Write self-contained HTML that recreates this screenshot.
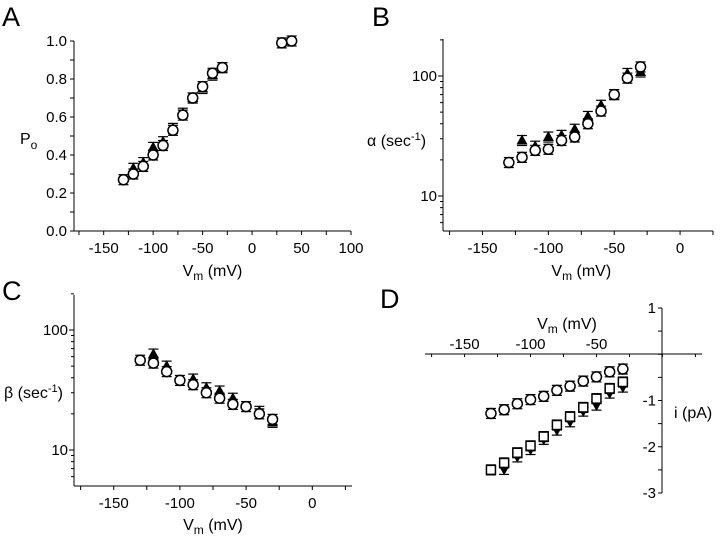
<!DOCTYPE html>
<html><head><meta charset="utf-8"><style>
html,body{margin:0;padding:0;background:#fff;}
svg{display:block;font-family:"Liberation Sans",sans-serif;}
</style></head><body>
<svg id="fig" width="720" height="536" viewBox="0 0 720 536"></svg>
<script>
// Panel A data (Po)
const voltsA_circ = [-130,-120,-110,-100,-90,-80,-70,-60,-50,-40,-30,30,40];
const poCirc = [0.27,0.30,0.34,0.40,0.45,0.53,0.61,0.70,0.76,0.83,0.86,0.99,1.0];
const voltsA_tri = [-120,-110,-100,-90,-80,-70,-60,-50,-40,-30];
const poTri = [0.33,0.36,0.44,0.47,0.54,0.62,0.70,0.75,0.82,0.86];
// Panel B data (alpha)
const voltsB_circ = [-130,-120,-110,-100,-90,-80,-70,-60,-50,-40,-30];
const alphaCirc = [19,21,24,24.5,29,31,40,51,70,96,119];
const voltsB_tri = [-120,-110,-100,-90,-80,-70,-60,-50,-40,-30];
const alphaTri = [29,26,31,32,36,46,57,70,105,108];
// Panel C data (beta)
const voltsC_circ = [-130,-120,-110,-100,-90,-80,-70,-60,-50,-40,-30];
const betaCirc = [56,53,45,38,35,30,27,24,23,20,18];
const voltsC_tri = [-120,-110,-90,-80,-70,-60,-40,-30];
const betaTri = [63,50,39,33,31,27,21,17];
// Panel D data (i)
const voltsD = [-130,-120,-110,-100,-90,-80,-70,-60,-50,-40,-30];
const iCirc = [-1.28,-1.2,-1.07,-0.98,-0.91,-0.78,-0.69,-0.58,-0.49,-0.38,-0.32];
const iSq = [-2.5,-2.35,-2.13,-1.98,-1.78,-1.53,-1.35,-1.15,-0.96,-0.74,-0.6];
const voltsD_tri = [-120,-110,-100,-90,-80,-70,-60,-50,-40,-30];
const iTri = [-2.49,-2.22,-2.06,-1.84,-1.64,-1.46,-1.23,-1.1,-0.84,-0.71];
// tick labels
const ticksA_x = [-150,-100,-50,0,50,100];
const ticksA_y = [0,0.2,0.4,0.6,0.8,1.0];
const ticksBC_x = [-150,-100,-50,0];
const ticksLog = [10,100];
const ticksD_x = [-150,-100,-50];
const ticksD_y = [1,-1,-2,-3];

const NS="http://www.w3.org/2000/svg";
const svg=document.getElementById('fig');
const TF=15;
function el(tag,attrs,parent,text){const e=document.createElementNS(NS,tag);for(const k in attrs)e.setAttribute(k,attrs[k]);if(text!==undefined)e.textContent=text;(parent||svg).appendChild(e);return e;}
function lin(d0,d1,r0,r1){return v=>r0+(v-d0)*(r1-r0)/(d1-d0);}
function logS(d0,d1,r0,r1){return v=>r0+(Math.log10(v)-Math.log10(d0))*(r1-r0)/(Math.log10(d1)-Math.log10(d0));}
function mark(g,type,x,y,name){
  let m;
  if(type==='c'){m=el('circle',{cx:x,cy:y,r:5,fill:'#fff',stroke:'#000','stroke-width':1.5},g);}
  else if(type==='s'){m=el('rect',{x:x-4.5,y:y-4.5,width:9,height:9,fill:'#fff',stroke:'#000','stroke-width':1.5},g);}
  else if(type==='t'){m=el('polygon',{points:`${x},${y-6} ${x-5.5},${y+4} ${x+5.5},${y+4}`,fill:'#000'},g);}
  else {m=el('polygon',{points:`${x},${y+6} ${x-5.5},${y-4} ${x+5.5},${y-4}`,fill:'#000'},g);}
  
  
  el('line',{x1:x-5,x2:x+5,y1:y-5,y2:y-5,stroke:'#000','stroke-width':1.2},g);
  el('line',{x1:x-5,x2:x+5,y1:y+5,y2:y+5,stroke:'#000','stroke-width':1.2},g);
}
function series(g,xs,ys,sx,sy,type,name){xs.forEach((v,i)=>mark(g,type,sx(v),sy(ys[i]),name+'-point'));}
function label(txt,x,y,name){const t=el('text',{x:x,y:y,'font-size':27},svg,txt);}
function vmLabel(g,x,y){const t=el('text',{x:x,y:y,'font-size':16,'text-anchor':'middle'},g);
  
  el('tspan',{},t,'V');el('tspan',{dy:4,'font-size':12},t,'m');el('tspan',{dy:-4},t,' (mV)');}

// ===== Panel A =====
(function(){
const g=el('g',{});
const sx=lin(-180,100,74,351), sy=lin(0,1,231,41);
el('line',{x1:74,y1:41,x2:74,y2:231,stroke:'#000'},g);
el('line',{x1:74,y1:231,x2:351,y2:231,stroke:'#000'},g);
for(let v=0;v<=1.001;v+=0.1){el('line',{x1:70,x2:74,y1:sy(v),y2:sy(v),stroke:'#000'},g);}
ticksA_y.forEach(v=>el('text',{x:67,y:sy(v)+5,'font-size':TF,'text-anchor':'end'},g,v.toFixed(1)));
for(let v=-175;v<=100;v+=25){el('line',{x1:sx(v),x2:sx(v),y1:231,y2:235,stroke:'#000'},g);}
ticksA_x.forEach(v=>el('text',{x:sx(v),y:253,'font-size':TF,'text-anchor':'middle'},g,String(v)));
vmLabel(g,sx(-40),276);
const yl=el('text',{x:20,y:144,'font-size':16},g);
el('tspan',{},yl,'P');el('tspan',{dy:5,'font-size':12},yl,'o');
series(g,voltsA_tri,poTri,sx,sy,'t','po-triangle');
series(g,voltsA_circ,poCirc,sx,sy,'c','po-circle');
})();
label('A',2,26,'panel-label-a');

// ===== Panel B =====
(function(){
const g=el('g',{});
const sx=lin(-180,25,443,713), sy=logS(10,100,196,76);
el('line',{x1:443,y1:39,x2:443,y2:231,stroke:'#000'},g);
el('line',{x1:443,y1:231,x2:713,y2:231,stroke:'#000'},g);
[6,7,8,9,10,20,30,40,50,60,70,80,90,100,200].forEach(v=>{const L=(v===10||v===100)?5:3;el('line',{x1:443-L,x2:443,y1:sy(v),y2:sy(v),stroke:'#000'},g);});
ticksLog.forEach(v=>el('text',{x:437,y:sy(v)+5,'font-size':TF,'text-anchor':'end'},g,String(v)));
for(let v=-175;v<=25;v+=25){el('line',{x1:sx(v),x2:sx(v),y1:231,y2:235,stroke:'#000'},g);}
ticksBC_x.forEach(v=>el('text',{x:sx(v),y:253,'font-size':TF,'text-anchor':'middle'},g,String(v)));
vmLabel(g,sx(-75),276);
const yl=el('text',{x:367,y:146,'font-size':16},g);
el('tspan',{},yl,'α (sec');el('tspan',{dy:-6,'font-size':11},yl,'-1');el('tspan',{dy:6},yl,')');
series(g,voltsB_tri,alphaTri,sx,sy,'t','alpha-triangle');
series(g,voltsB_circ,alphaCirc,sx,sy,'c','alpha-circle');
})();
label('B',372,26,'panel-label-b');

// ===== Panel C =====
(function(){
const g=el('g',{});
const sx=lin(-180,30,74,352), sy=logS(10,100,450,330);
el('line',{x1:74,y1:295,x2:74,y2:486,stroke:'#000'},g);
el('line',{x1:74,y1:486,x2:352,y2:486,stroke:'#000'},g);
[6,7,8,9,10,20,30,40,50,60,70,80,90,100,200].forEach(v=>{const L=(v===10||v===100)?5:3;el('line',{x1:74-L,x2:74,y1:sy(v),y2:sy(v),stroke:'#000'},g);});
ticksLog.forEach(v=>el('text',{x:68,y:sy(v)+5,'font-size':TF,'text-anchor':'end'},g,String(v)));
for(let v=-175;v<=25;v+=25){el('line',{x1:sx(v),x2:sx(v),y1:486,y2:490,stroke:'#000'},g);}
ticksBC_x.forEach(v=>el('text',{x:sx(v),y:508,'font-size':TF,'text-anchor':'middle'},g,String(v)));
vmLabel(g,sx(-75),530);
const yl=el('text',{x:4,y:398,'font-size':16},g);
el('tspan',{},yl,'β (sec');el('tspan',{dy:-6,'font-size':11},yl,'-1');el('tspan',{dy:6},yl,')');
series(g,voltsC_tri,betaTri,sx,sy,'t','beta-triangle');
series(g,voltsC_circ,betaCirc,sx,sy,'c','beta-circle');
})();
label('C',2,300,'panel-label-c');

// ===== Panel D =====
(function(){
const g=el('g',{});
const sx=lin(-180,30,425,702), sy=lin(-3,1,493,308);
el('line',{x1:662,y1:308,x2:662,y2:493,stroke:'#000'},g);
el('line',{x1:425,y1:354,x2:702,y2:354,stroke:'#000'},g);
for(let v=-3;v<=1.001;v+=0.5){el('line',{x1:658,x2:662,y1:sy(v),y2:sy(v),stroke:'#000'},g);}
ticksD_y.forEach(v=>el('text',{x:656,y:sy(v)+5,'font-size':TF,'text-anchor':'end'},g,String(v)));
for(let v=-175;v<=25;v+=25){el('line',{x1:sx(v),x2:sx(v),y1:354,y2:357,stroke:'#000'},g);}
ticksD_x.forEach(v=>el('text',{x:sx(v),y:349,'font-size':TF,'text-anchor':'middle'},g,String(v)));
vmLabel(g,567,329);
const yl=el('text',{x:674,y:418,'font-size':16},g,'i (pA)');
series(g,voltsD_tri,iTri,sx,sy,'v','i-triangle-down');
series(g,voltsD,iSq,sx,sy,'s','i-square');
series(g,voltsD,iCirc,sx,sy,'c','i-circle');
})();
label('D',380,308,'panel-label-d');
</script>
</body></html>
